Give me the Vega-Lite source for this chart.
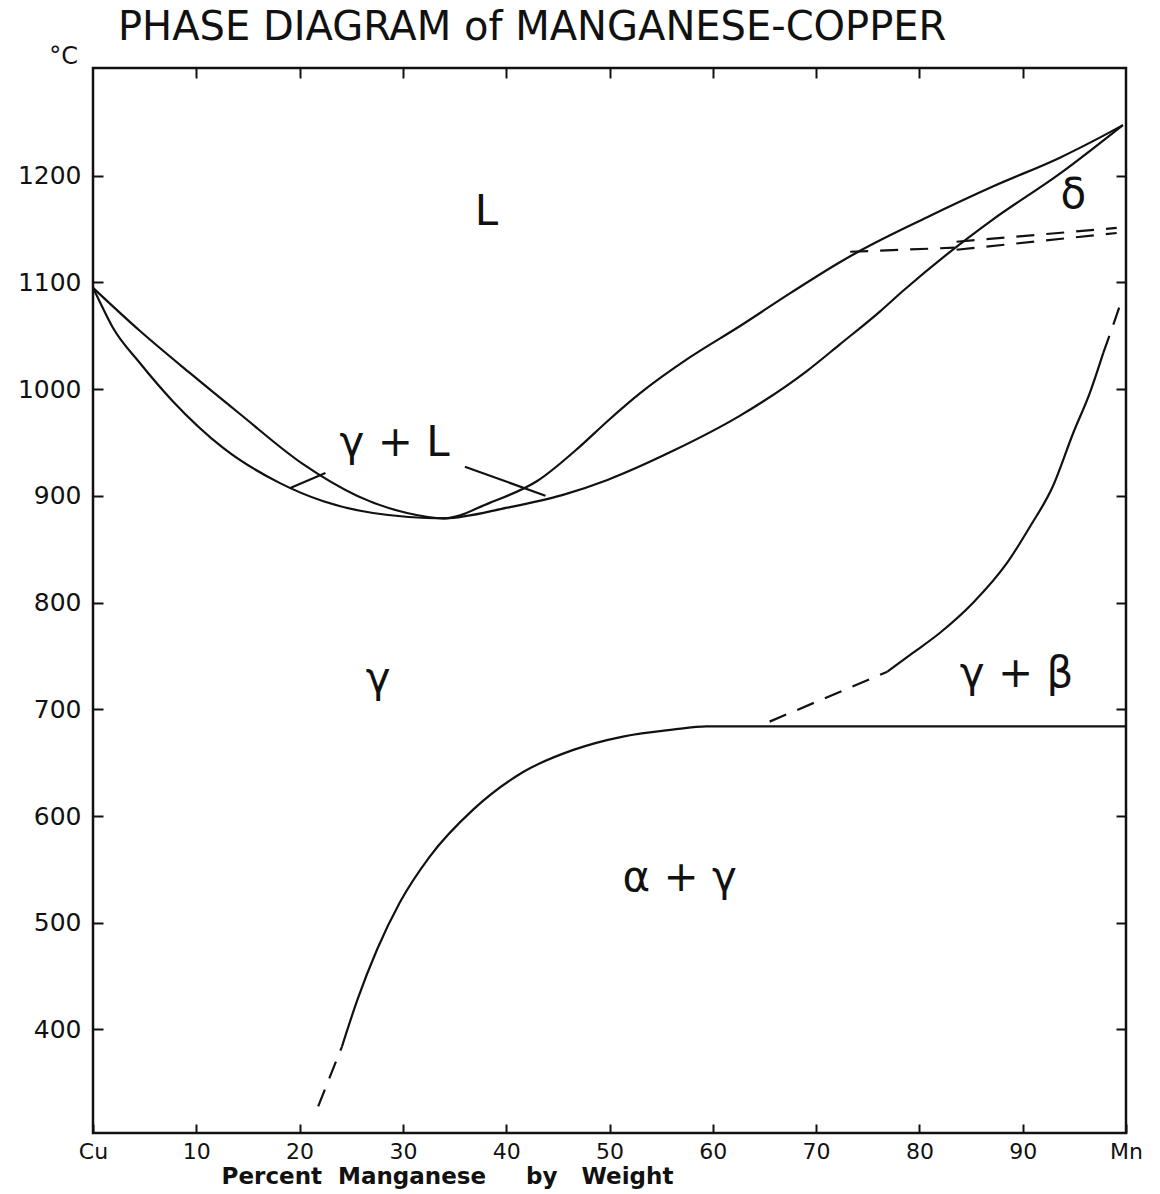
{
  "$schema": "https://vega.github.io/schema/vega-lite/v6.json",
  "width": 1033,
  "height": 1065,
  "autosize": "none",
  "padding": {"left": 93, "top": 68, "right": 34, "bottom": 61},
  "background": "white",
  "config": {
    "view": {"stroke": "#111", "strokeWidth": 2.5},
    "font": "DejaVu Sans"
  },
  "title": {
    "text": "PHASE DIAGRAM of MANGANESE-COPPER",
    "anchor": "start",
    "frame": "group",
    "dx": 25,
    "dy": 39,
    "offset": 3,
    "baseline": "alphabetic",
    "font": "DejaVu Sans",
    "fontSize": 40,
    "fontWeight": "normal",
    "color": "#111"
  },
  "datasets": {
    "curves": [
      {"series": "liquidus", "x": 0, "T": 1095},
      {"series": "liquidus", "x": 4.5, "T": 1055},
      {"series": "liquidus", "x": 9.4, "T": 1015},
      {"series": "liquidus", "x": 14.2, "T": 977},
      {"series": "liquidus", "x": 20.3, "T": 930},
      {"series": "liquidus", "x": 25.6, "T": 900},
      {"series": "liquidus", "x": 30.4, "T": 884},
      {"series": "liquidus", "x": 34.0, "T": 879},
      {"series": "liquidus", "x": 38.4, "T": 893.5},
      {"series": "liquidus", "x": 43.0, "T": 914},
      {"series": "liquidus", "x": 47.1, "T": 946},
      {"series": "liquidus", "x": 49.8, "T": 970},
      {"series": "liquidus", "x": 53.0, "T": 996.5},
      {"series": "liquidus", "x": 57.8, "T": 1030},
      {"series": "liquidus", "x": 62.6, "T": 1059},
      {"series": "liquidus", "x": 67.5, "T": 1090},
      {"series": "liquidus", "x": 72.3, "T": 1119},
      {"series": "liquidus", "x": 74.3, "T": 1130},
      {"series": "liquidus", "x": 80.7, "T": 1161},
      {"series": "liquidus", "x": 87.1, "T": 1190},
      {"series": "liquidus", "x": 93.6, "T": 1217},
      {"series": "liquidus", "x": 97.5, "T": 1236},
      {"series": "liquidus", "x": 99.7, "T": 1247.5},
      {"series": "solidus", "x": 0, "T": 1095},
      {"series": "solidus", "x": 0.7, "T": 1081},
      {"series": "solidus", "x": 1.9, "T": 1058},
      {"series": "solidus", "x": 4.5, "T": 1025},
      {"series": "solidus", "x": 7.7, "T": 989},
      {"series": "solidus", "x": 12.6, "T": 945},
      {"series": "solidus", "x": 18.1, "T": 912},
      {"series": "solidus", "x": 22.3, "T": 895},
      {"series": "solidus", "x": 27.1, "T": 884},
      {"series": "solidus", "x": 34.0, "T": 879},
      {"series": "solidus", "x": 40.1, "T": 889},
      {"series": "solidus", "x": 45.5, "T": 901},
      {"series": "solidus", "x": 49.8, "T": 915},
      {"series": "solidus", "x": 56.1, "T": 942},
      {"series": "solidus", "x": 62.6, "T": 975},
      {"series": "solidus", "x": 69.1, "T": 1017},
      {"series": "solidus", "x": 72.3, "T": 1042},
      {"series": "solidus", "x": 76.2, "T": 1073},
      {"series": "solidus", "x": 78.4, "T": 1092},
      {"series": "solidus", "x": 83.0, "T": 1129},
      {"series": "solidus", "x": 87.1, "T": 1159},
      {"series": "solidus", "x": 93.6, "T": 1202},
      {"series": "solidus", "x": 99.7, "T": 1247.5},
      {"series": "gamma_beta", "x": 76.9, "T": 735.3},
      {"series": "gamma_beta", "x": 79.4, "T": 753.1},
      {"series": "gamma_beta", "x": 82.0, "T": 771.8},
      {"series": "gamma_beta", "x": 85.2, "T": 799.9},
      {"series": "gamma_beta", "x": 88.5, "T": 837.4},
      {"series": "gamma_beta", "x": 90.7, "T": 871.1},
      {"series": "gamma_beta", "x": 92.9, "T": 908.6},
      {"series": "gamma_beta", "x": 94.9, "T": 959.2},
      {"series": "gamma_beta", "x": 96.5, "T": 996.6},
      {"series": "gamma_beta", "x": 97.8, "T": 1034.1},
      {"series": "alpha_gamma", "x": 24.1, "T": 384},
      {"series": "alpha_gamma", "x": 25.6, "T": 428},
      {"series": "alpha_gamma", "x": 27.5, "T": 475},
      {"series": "alpha_gamma", "x": 29.7, "T": 519},
      {"series": "alpha_gamma", "x": 32.6, "T": 562},
      {"series": "alpha_gamma", "x": 36.8, "T": 606},
      {"series": "alpha_gamma", "x": 41.6, "T": 641},
      {"series": "alpha_gamma", "x": 46.5, "T": 662},
      {"series": "alpha_gamma", "x": 51.3, "T": 674.5},
      {"series": "alpha_gamma", "x": 56.1, "T": 681},
      {"series": "alpha_gamma", "x": 59.4, "T": 684},
      {"series": "alpha_gamma", "x": 65.0, "T": 684},
      {"series": "alpha_gamma", "x": 100, "T": 684},
      {"series": "pointer_left", "x": 19.1, "T": 907.4},
      {"series": "pointer_left", "x": 22.5, "T": 921.4},
      {"series": "pointer_right", "x": 36.0, "T": 927.4},
      {"series": "pointer_right", "x": 43.8, "T": 900.2},
      {"series": "delta_start", "x": 73.3, "T": 1128.8},
      {"series": "delta_start", "x": 83.4, "T": 1132.6},
      {"series": "delta_upper", "x": 83.6, "T": 1138.2},
      {"series": "delta_upper", "x": 99.1, "T": 1151.1},
      {"series": "delta_lower", "x": 83.6, "T": 1130.7},
      {"series": "delta_lower", "x": 99.1, "T": 1146.4},
      {"series": "gamma_beta_top", "x": 97.8, "T": 1034.1},
      {"series": "gamma_beta_top", "x": 98.5, "T": 1052.9},
      {"series": "gamma_beta_top", "x": 99.7, "T": 1086.7},
      {"series": "gamma_beta_low", "x": 65.5, "T": 688.5},
      {"series": "gamma_beta_low", "x": 76.9, "T": 735.3},
      {"series": "alpha_gamma_low", "x": 21.8, "T": 328},
      {"series": "alpha_gamma_low", "x": 24.1, "T": 384}
    ],
    "labels": [
      {"label": "L", "x": 38.1, "T": 1166},
      {"label": "γ + L", "x": 29.2, "T": 950},
      {"label": "γ", "x": 27.6, "T": 728},
      {"label": "α + γ", "x": 56.8, "T": 542},
      {"label": "γ + β", "x": 89.4, "T": 733},
      {"label": "δ", "x": 94.9, "T": 1182}
    ]
  },
  "layer": [
    {
      "data": {"name": "curves"},
      "transform": [
        {"filter": {"field": "series", "oneOf": ["liquidus", "solidus", "gamma_beta", "alpha_gamma", "pointer_left", "pointer_right"]}}
      ],
      "mark": {"type": "line", "color": "#111", "strokeWidth": 2.2, "interpolate": "monotone"},
      "encoding": {
        "x": {
          "field": "x", "type": "quantitative",
          "scale": {"domain": [0, 100], "nice": false, "zero": false},
          "axis": {
            "orient": "bottom",
            "values": [0, 10, 20, 30, 40, 50, 60, 70, 80, 90, 100],
            "labelExpr": "datum.value == 0 ? 'Cu' : datum.value == 100 ? 'Mn' : datum.label",
            "domain": false, "grid": false,
            "tickSize": -9, "tickWidth": 2, "tickColor": "#111",
            "labelPadding": 17, "labelFont": "DejaVu Sans", "labelFontSize": 22, "labelColor": "#111",
            "labelFlush": false, "labelOverlap": false,
            "title": "Percent\u00a0 Manganese\u00a0\u00a0\u00a0\u00a0 by\u00a0\u00a0 Weight",
            "titleFont": "DejaVu Sans", "titleFontSize": 23, "titleFontWeight": "bold", "titleColor": "#111",
            "titleX": 354, "titleY": 43, "titleAlign": "center", "titleBaseline": "middle"
          }
        },
        "y": {
          "field": "T", "type": "quantitative",
          "scale": {"domain": [303, 1301], "nice": false, "zero": false},
          "axis": {
            "orient": "left",
            "values": [400, 500, 600, 700, 800, 900, 1000, 1100, 1200],
            "format": "d",
            "domain": false, "grid": false,
            "tickSize": -10, "tickWidth": 2, "tickColor": "#111",
            "labelPadding": 22, "labelFont": "DejaVu Sans", "labelFontSize": 25, "labelColor": "#111",
            "labelFlush": false, "labelOverlap": false,
            "title": "°C",
            "titleFont": "DejaVu Sans", "titleFontSize": 24, "titleFontWeight": "normal", "titleColor": "#111",
            "titleAngle": 0, "titleX": -30, "titleY": -12, "titleAlign": "center", "titleBaseline": "middle"
          }
        },
        "detail": {"field": "series"}
      }
    },
    {
      "data": {"name": "curves"},
      "transform": [
        {"filter": {"field": "series", "oneOf": ["delta_start", "delta_upper", "delta_lower", "gamma_beta_top", "gamma_beta_low", "alpha_gamma_low"]}}
      ],
      "mark": {"type": "line", "color": "#111", "strokeWidth": 2.2, "strokeDash": [18, 12]},
      "encoding": {
        "x": {
          "field": "x", "type": "quantitative",
          "scale": {"domain": [0, 100], "nice": false, "zero": false},
          "axis": {
            "orient": "top",
            "values": [10, 20, 30, 40, 50, 60, 70, 80, 90],
            "labels": false, "domain": false, "grid": false,
            "tickSize": -10, "tickWidth": 2, "tickColor": "#111",
            "title": null
          }
        },
        "y": {
          "field": "T", "type": "quantitative",
          "scale": {"domain": [303, 1301], "nice": false, "zero": false},
          "axis": {
            "orient": "right",
            "values": [400, 500, 600, 700, 800, 900, 1000, 1100, 1200],
            "labels": false, "domain": false, "grid": false,
            "tickSize": -10, "tickWidth": 2, "tickColor": "#111",
            "title": null
          }
        },
        "detail": {"field": "series"}
      }
    },
    {
      "data": {"name": "labels"},
      "mark": {"type": "text", "font": "DejaVu Sans", "fontSize": 42, "color": "#111", "align": "center", "baseline": "middle"},
      "encoding": {
        "x": {"field": "x", "type": "quantitative", "scale": {"domain": [0, 100], "nice": false, "zero": false}, "axis": null},
        "y": {"field": "T", "type": "quantitative", "scale": {"domain": [303, 1301], "nice": false, "zero": false}, "axis": null},
        "text": {"field": "label"}
      }
    }
  ],
  "resolve": {"axis": {"x": "independent", "y": "independent"}}
}
